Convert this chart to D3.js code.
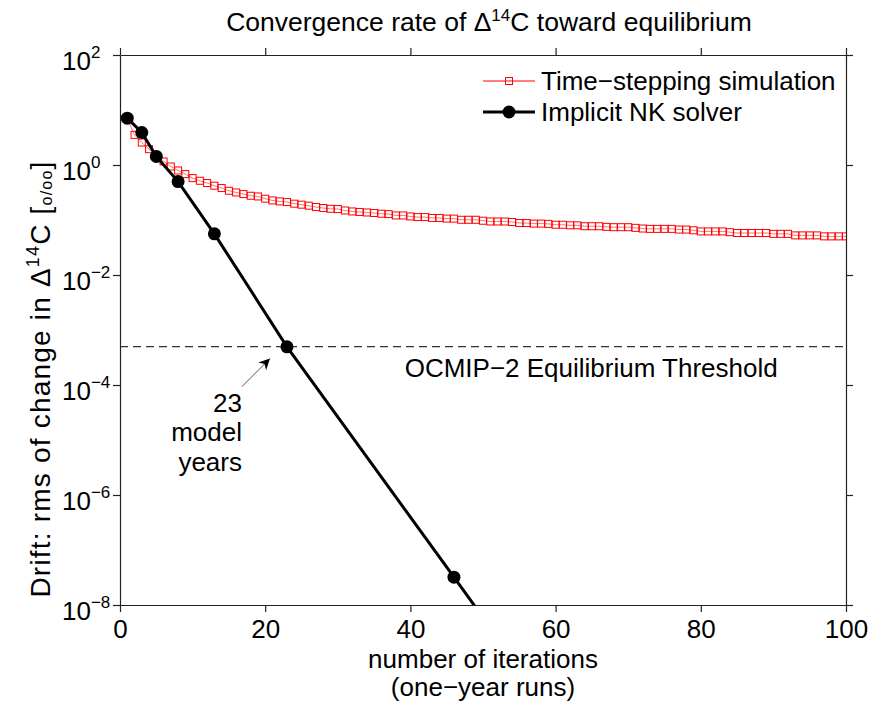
<!DOCTYPE html>
<html>
<head>
<meta charset="utf-8">
<script src="https://cdn.jsdelivr.net/npm/d3@7"></script>
<style>
  body { margin: 0; background: #fff; }
  svg { font-family: 'Liberation Sans', Arial, sans-serif; }
</style>
</head>
<body>
<svg id="chart"></svg>
<script>
// Time-stepping simulation: drift after each one-year run (iterations 1..100)
const tsIter = d3.range(1, 101);
const tsDrift = [
  7.0, 3.53, 2.56, 1.94, 1.43, 1.16, 0.94, 0.795, 0.684, 0.578,
  0.517, 0.47, 0.42, 0.381, 0.34, 0.317, 0.296, 0.276, 0.268, 0.244,
  0.227, 0.218, 0.212, 0.198, 0.19, 0.182, 0.172, 0.165, 0.16, 0.158,
  0.149, 0.143, 0.14, 0.137, 0.134, 0.13, 0.128, 0.121, 0.121, 0.116,
  0.113, 0.113, 0.109, 0.109, 0.106, 0.106, 0.101, 0.101, 0.101, 0.097,
  0.094, 0.094, 0.094, 0.092, 0.088, 0.088, 0.086, 0.086, 0.085, 0.082,
  0.082, 0.08, 0.08, 0.077, 0.077, 0.077, 0.075, 0.074, 0.074, 0.074,
  0.072, 0.07, 0.069, 0.069, 0.069, 0.069, 0.067, 0.067, 0.065, 0.062,
  0.062, 0.062, 0.062, 0.06, 0.058, 0.058, 0.058, 0.058, 0.058, 0.056,
  0.056, 0.056, 0.0525, 0.0525, 0.0525, 0.0525, 0.0504, 0.0504, 0.0504, 0.0504
];

// Implicit Newton-Krylov solver: cumulative model years and drift
const nkIter = [1, 3, 5, 8, 13, 23, 46, 69];
const nkDrift = [7.1, 3.9, 1.43, 0.5, 0.056, 4.95e-4, 3.2e-8, 2e-12];

const threshold = 5e-4;
const xTicks = [0, 20, 40, 60, 80, 100];
const yTicks = [1e2, 1, 1e-2, 1e-4, 1e-6, 1e-8];
const yExponents = ['2', '0', '\u22122', '\u22124', '\u22126', '\u22128'];

const width = 885;
const height = 705;
const margin = { top: 55, right: 39, bottom: 100, left: 120 };
const innerW = width - margin.left - margin.right;
const innerH = height - margin.top - margin.bottom;

const svg = d3.select('#chart').attr('width', width).attr('height', height);
const g = svg.append('g').attr('transform', `translate(${margin.left},${margin.top})`);

const x = d3.scaleLinear().domain([0, 100]).range([0, innerW]);
const y = d3.scaleLog().domain([1e-8, 1e2]).range([innerH, 0]);

svg.append('defs').append('clipPath').attr('id', 'plotClip')
  .append('rect').attr('width', innerW).attr('height', innerH);

// axes (box with outward ticks on all four sides)
const fontSize = 26;
const axisColor = '#222';

const xAxis = g.append('g').attr('transform', `translate(0,${innerH})`)
  .call(d3.axisBottom(x).tickValues(xTicks).tickSize(7).tickPadding(8).tickSizeOuter(0));
xAxis.selectAll('text').attr('font-size', fontSize).attr('font-family', 'Liberation Sans, Arial, sans-serif').attr('fill', '#000');

g.append('g')
  .call(d3.axisTop(x).tickValues(xTicks).tickSize(7).tickFormat(() => '').tickSizeOuter(0));

g.append('g').attr('transform', `translate(${innerW},0)`)
  .call(d3.axisRight(y).tickValues(yTicks).tickSize(7).tickFormat(() => '').tickSizeOuter(0));

const yAxis = g.append('g')
  .call(d3.axisLeft(y).tickValues(yTicks).tickSize(7).tickFormat(() => '').tickSizeOuter(0));

yAxis.selectAll('.tick').append('text')
  .attr('x', -58)
  .attr('y', 14)
  .attr('text-anchor', 'start')
  .attr('fill', '#000')
  .attr('font-size', fontSize)
  .attr('font-family', 'Liberation Sans, Arial, sans-serif')
  .each(function (d, i) {
    const t = d3.select(this);
    t.append('tspan').text('10');
    t.append('tspan').attr('font-size', 17).attr('dy', -12).text(yExponents[i]);
  });

g.selectAll('.domain').attr('stroke', axisColor).attr('stroke-width', 1.2);
g.selectAll('.tick line').attr('stroke', axisColor).attr('stroke-width', 1.2);

// threshold line
g.append('line')
  .attr('x1', 0).attr('x2', innerW)
  .attr('y1', y(threshold)).attr('y2', y(threshold))
  .attr('stroke', '#333').attr('stroke-width', 1.2)
  .attr('stroke-dasharray', '8,5');

g.append('text')
  .attr('x', x(90.6)).attr('y', y(threshold) + 30)
  .attr('text-anchor', 'end')
  .attr('font-size', fontSize)
  .text('OCMIP\u22122 Equilibrium Threshold');

const plot = g.append('g').attr('clip-path', 'url(#plotClip)');

// time-stepping series
const tsData = tsIter.map((it, i) => ({ it, v: tsDrift[i] }));
const line = d3.line().x(d => x(d.it)).y(d => y(d.v));

plot.append('path').datum(tsData)
  .attr('fill', 'none').attr('stroke', '#ff0000').attr('stroke-opacity', 0.55).attr('stroke-width', 1)
  .attr('d', line);

const sq = 7;
plot.selectAll('.ts').data(tsData).join('rect')
  .attr('class', 'ts')
  .attr('x', d => x(d.it) - sq / 2).attr('y', d => y(d.v) - sq / 2)
  .attr('width', sq).attr('height', sq)
  .attr('fill', 'none').attr('stroke', '#ff0000').attr('stroke-width', 1);

// NK solver series
const nkData = nkIter.map((it, i) => ({ it, v: nkDrift[i] }));
plot.append('path').datum(nkData)
  .attr('fill', 'none').attr('stroke', '#000').attr('stroke-width', 3)
  .attr('d', line);
plot.selectAll('.nk').data(nkData).join('circle')
  .attr('class', 'nk')
  .attr('cx', d => x(d.it)).attr('cy', d => y(d.v)).attr('r', 6.5)
  .attr('fill', '#000');

// annotation: 23 model years
const ax = x(23), ay = y(threshold);
svg.append('defs').append('marker')
  .attr('id', 'arrowHead').attr('viewBox', '0 0 10 10')
  .attr('refX', 10).attr('refY', 5)
  .attr('markerWidth', 11).attr('markerHeight', 11).attr('markerUnits', 'userSpaceOnUse')
  .attr('orient', 'auto')
  .append('path').attr('d', 'M0,0 L10,5 L0,10 L3,5 Z').attr('fill', '#000');

g.append('line')
  .attr('x1', ax - 45).attr('y1', ay + 40)
  .attr('x2', ax - 17).attr('y2', ay + 12)
  .attr('stroke', '#555').attr('stroke-width', 1)
  .attr('marker-end', 'url(#arrowHead)');

const annLines = ['23', 'model', 'years'];
g.append('g').selectAll('text').data(annLines).join('text')
  .attr('x', ax - 45)
  .attr('y', (d, i) => ay + 65 + i * 29.5)
  .attr('text-anchor', 'end')
  .attr('font-size', fontSize)
  .text(d => d);

// title
const title = svg.append('text')
  .attr('x', margin.left + innerW / 2 + 6).attr('y', 31)
  .attr('text-anchor', 'middle')
  .attr('font-size', 26.5);
title.append('tspan').text('Convergence rate of \u0394');
title.append('tspan').attr('font-size', 17).attr('dy', -10).text('14');
title.append('tspan').attr('dy', 10).text('C toward equilibrium');

// x label
const xLab = svg.append('text')
  .attr('text-anchor', 'middle')
  .attr('font-size', fontSize);
xLab.append('tspan').attr('x', margin.left + innerW / 2).attr('y', 668).text('number of iterations');
xLab.append('tspan').attr('x', margin.left + innerW / 2).attr('y', 696).text('(one\u2212year runs)');

// y label (spread out a bit more than the other texts in the reference)
const yLab = svg.append('text')
  .attr('transform', 'translate(50,379) rotate(-90)')
  .attr('text-anchor', 'middle')
  .attr('font-size', 28)
  .attr('letter-spacing', 1.2);
yLab.append('tspan').text('Drift: rms of change in \u0394');
yLab.append('tspan').attr('font-size', 18).attr('dy', -11).text('14');
yLab.append('tspan').attr('dy', 11).text('C [');
yLab.append('tspan').attr('font-size', 16).attr('dy', 2).text('o/oo');
yLab.append('tspan').attr('dy', -2).text(']');

// legend
const legend = svg.append('g').attr('transform', 'translate(483,0)');
const legRows = [
  { label: 'Time\u2212stepping simulation', y: 81, color: '#ff0000', w: 1, marker: 'square' },
  { label: 'Implicit NK solver', y: 112, color: '#000', w: 3, marker: 'circle' }
];
legRows.forEach(r => {
  legend.append('line').attr('x1', 0).attr('x2', 52).attr('y1', r.y).attr('y2', r.y)
    .attr('stroke', r.color).attr('stroke-width', r.w);
  if (r.marker === 'square') {
    legend.append('rect').attr('x', 26 - sq / 2).attr('y', r.y - sq / 2).attr('width', sq).attr('height', sq)
      .attr('fill', 'none').attr('stroke', r.color);
  } else {
    legend.append('circle').attr('cx', 26).attr('cy', r.y).attr('r', 6.5).attr('fill', r.color);
  }
  legend.append('text').attr('x', 58).attr('y', r.y + 9).attr('font-size', fontSize).text(r.label);
});
</script>
</body>
</html>
